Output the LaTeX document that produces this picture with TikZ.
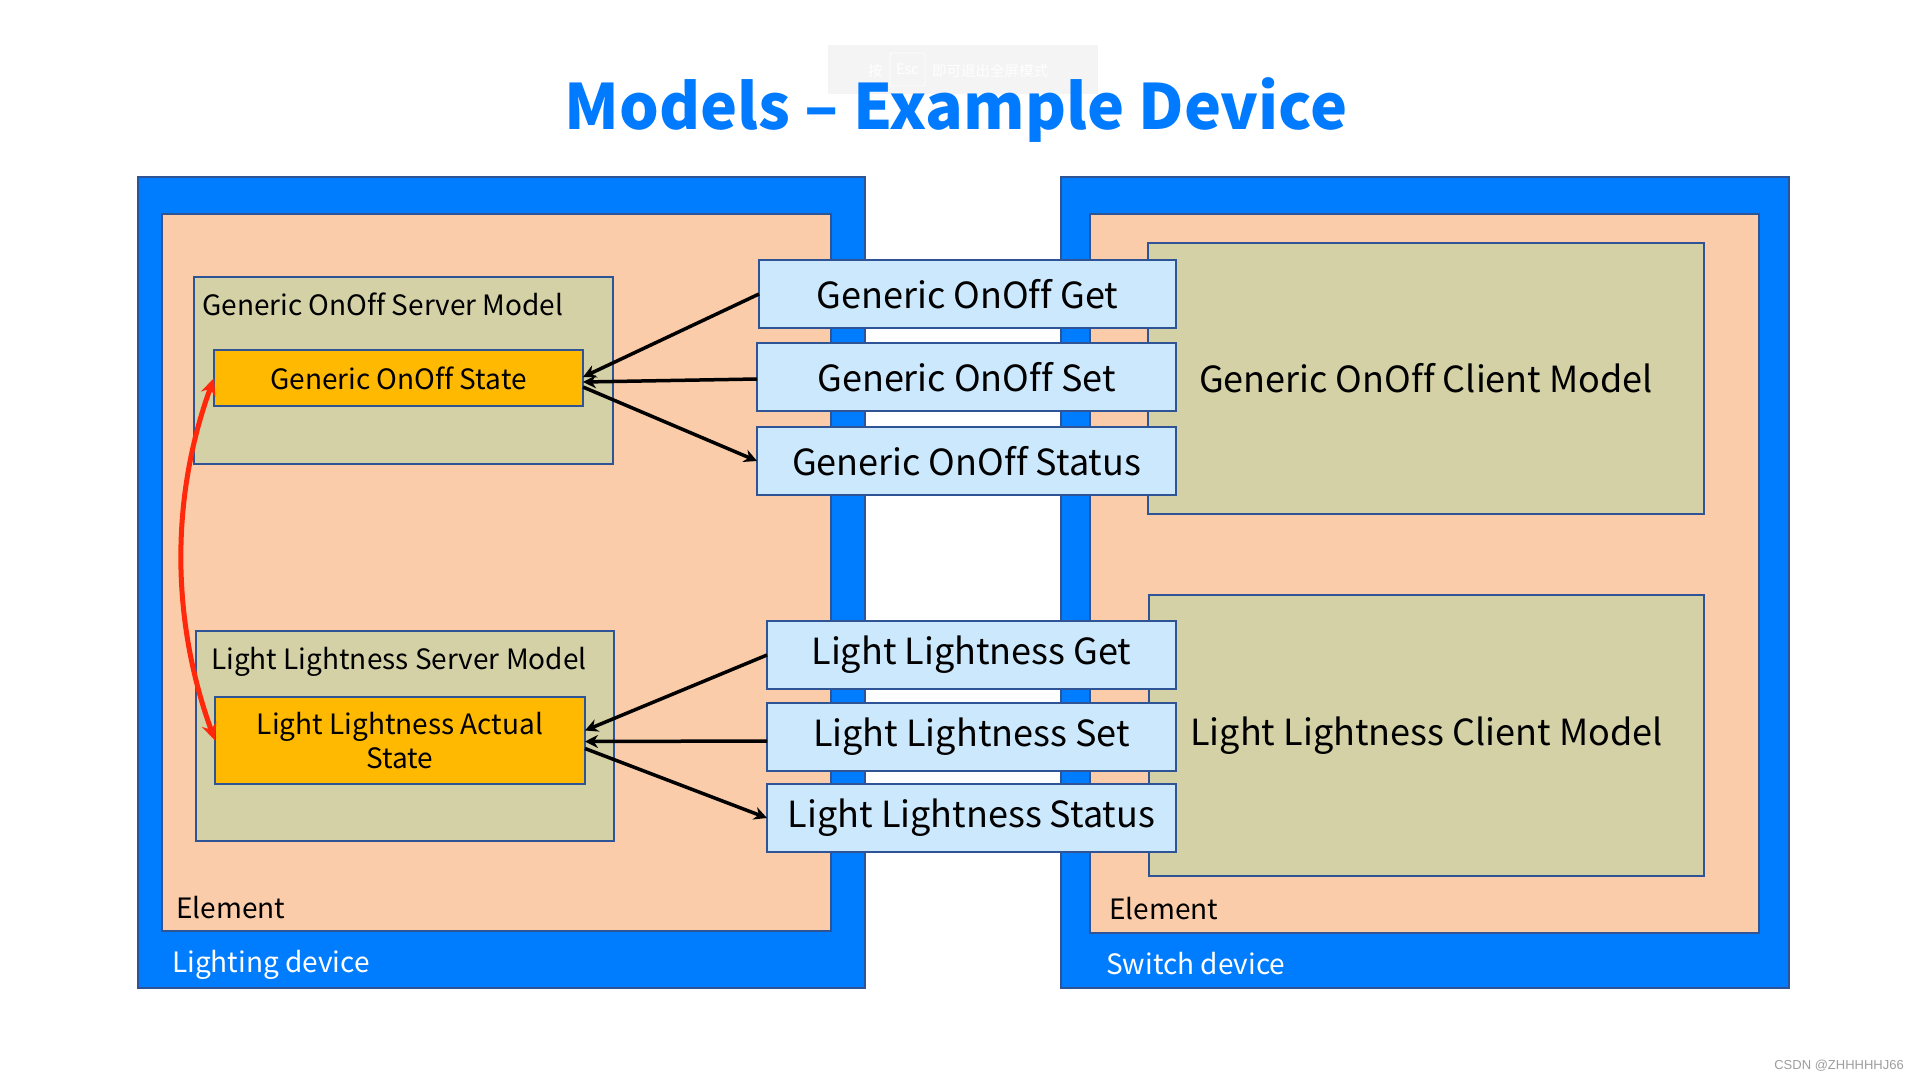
\documentclass[tikz,border=0pt]{standalone}
\usepackage{fontspec}
\setmainfont{Noto Sans CJK SC}[Ligatures=CommonOff]
\newfontfamily\markfont{Liberation Sans}
\usetikzlibrary{arrows.meta}

\definecolor{devblue}{RGB}{0,125,255}
\definecolor{titleblue}{RGB}{0,122,255}
\definecolor{edgeblue}{RGB}{47,84,150}
\definecolor{elemfill}{RGB}{250,204,170}
\definecolor{modelfill}{RGB}{211,209,165}
\definecolor{statefill}{RGB}{255,185,0}
\definecolor{msgfill}{RGB}{204,232,252}
\definecolor{linkred}{RGB}{255,40,10}
\definecolor{bannergray}{RGB}{244,244,244}

\tikzset{
	box/.style={draw=edgeblue,line width=1.5pt,inner sep=0,outer sep=0},
	device/.style={box,fill=devblue},
	element/.style={box,fill=elemfill},
	model/.style={box,fill=modelfill,font=\fontsize{36}{42}\selectfont},
	state/.style={box,fill=statefill,align=center,font=\fontsize{28}{34}\selectfont},
	message/.style={box,line width=2pt,fill=msgfill,minimum height=68,font=\fontsize{36}{42}\selectfont},
	label/.style={anchor=base west,inner sep=0,font=\fontsize{28}{34}\selectfont},
	banner text/.style={inner sep=0,text=white,text depth=0pt,font=\fontsize{14.5}{18}\selectfont},
	msgarrow/.style={-{Stealth[length=13pt,width=13pt]},line width=3.5pt},
	linkarrow/.style={{Stealth[length=17pt,width=15pt]}-{Stealth[length=17pt,width=15pt]},line width=5pt,draw=linkred},
}

\begin{document}
\begin{tikzpicture}[x=1pt,y=-1pt]
	\fill[white] (0,0) rectangle (1920,1080);
	\useasboundingbox (0,0) rectangle (1920,1080);
	% banner and title
	\node[fill=bannergray,minimum width=270,minimum height=49,inner sep=0] (banner) at (963,69.5) {};
	\node[banner text,anchor=base west] (press) at (868,76) {按};
	\node[banner text,draw=white,rounded corners=2pt,line width=0.8pt,minimum width=35,minimum height=33] (esc) at (907.5,69.5) {Esc};
	\node[banner text,anchor=base west] (quit) at (932,76) {即可退出全屏模式};
	\node[anchor=base,inner sep=0,text height=48pt,text depth=14pt,text=titleblue,font=\fontsize{62.5}{74}\selectfont\bfseries] (title) at (956,129) {Models – Example Device};

	% lighting device
	\node[device,minimum width=727,minimum height=811] (ldev) at (501.5,582.5) {};
	\node[element,minimum width=669,minimum height=717] (lelem) at (496.5,572.5) {};
	\node[model,minimum width=419,minimum height=187] (gsrv) at (403.5,370.5) {};
	\node[state,minimum width=369,minimum height=56] (gstate) at (398.5,378) {Generic OnOff State};
	\node[model,minimum width=418,minimum height=210] (lsrv) at (405,736) {};
	\node[state,minimum width=370,minimum height=87] (lstate) at (400,740.5) {Light Lightness Actual\\State};
	\node[label] (gsrvtxt) at (202,315) {Generic OnOff Server Model};
	\node[label] (lsrvtxt) at (211,669) {Light Lightness Server Model};
	\node[label] (lelemtxt) at (176,918) {Element};
	\node[label,text=white] (ldevtxt) at (172,972) {Lighting device};

	% switch device
	\node[device,minimum width=728,minimum height=811] (rdev) at (1425,582.5) {};
	\node[element,minimum width=669,minimum height=719] (relem) at (1424.5,573.5) {};
	\node[model,minimum width=556,minimum height=271] (gcli) at (1426,378.5) {Generic OnOff Client Model};
	\node[model,minimum width=555,minimum height=281] (lcli) at (1426.5,735.5) {Light Lightness Client Model};
	\node[label] (relemtxt) at (1109,919) {Element};
	\node[label,text=white] (rdevtxt) at (1106,974) {Switch device};

	% messages
	\node[message,minimum width=417] (gget) at (967.5,294) {Generic OnOff Get};
	\node[message,minimum width=419] (gset) at (966.5,377) {Generic OnOff Set};
	\node[message,minimum width=419] (gstat) at (966.5,461) {Generic OnOff Status};
	\node[message,minimum width=409] (lget) at (971.5,655) {Light Lightness Get};
	\node[message,minimum width=409] (lset) at (971.5,737) {Light Lightness Set};
	\node[message,minimum width=409] (lstat) at (971.5,818) {Light Lightness Status};

	\draw[msgarrow] (gget.west) -- ([yshift=1]gstate.east);
	\draw[msgarrow] ([yshift=-2]gset.west) -- ([yshift=-4]gstate.east);
	\draw[msgarrow] ([yshift=-9]gstate.east) -- (gstat.west);
	\draw[msgarrow] (lget.west) -- ([yshift=10]lstate.east);
	\draw[msgarrow] ([yshift=-4]lset.west) -- ([yshift=-1]lstate.east);
	\draw[msgarrow] ([yshift=-8]lstate.east) -- (lstat.west);

	\draw[linkarrow] (gstate.west) to[out=250,in=110,looseness=0.9] (lstate.west);

	\node[anchor=base east,inner sep=0,text=black!38,font=\markfont\fontsize{13}{16}\selectfont] (mark) at (1904,1069) {CSDN @ZHHHHHJ66};
\end{tikzpicture}
\end{document}
